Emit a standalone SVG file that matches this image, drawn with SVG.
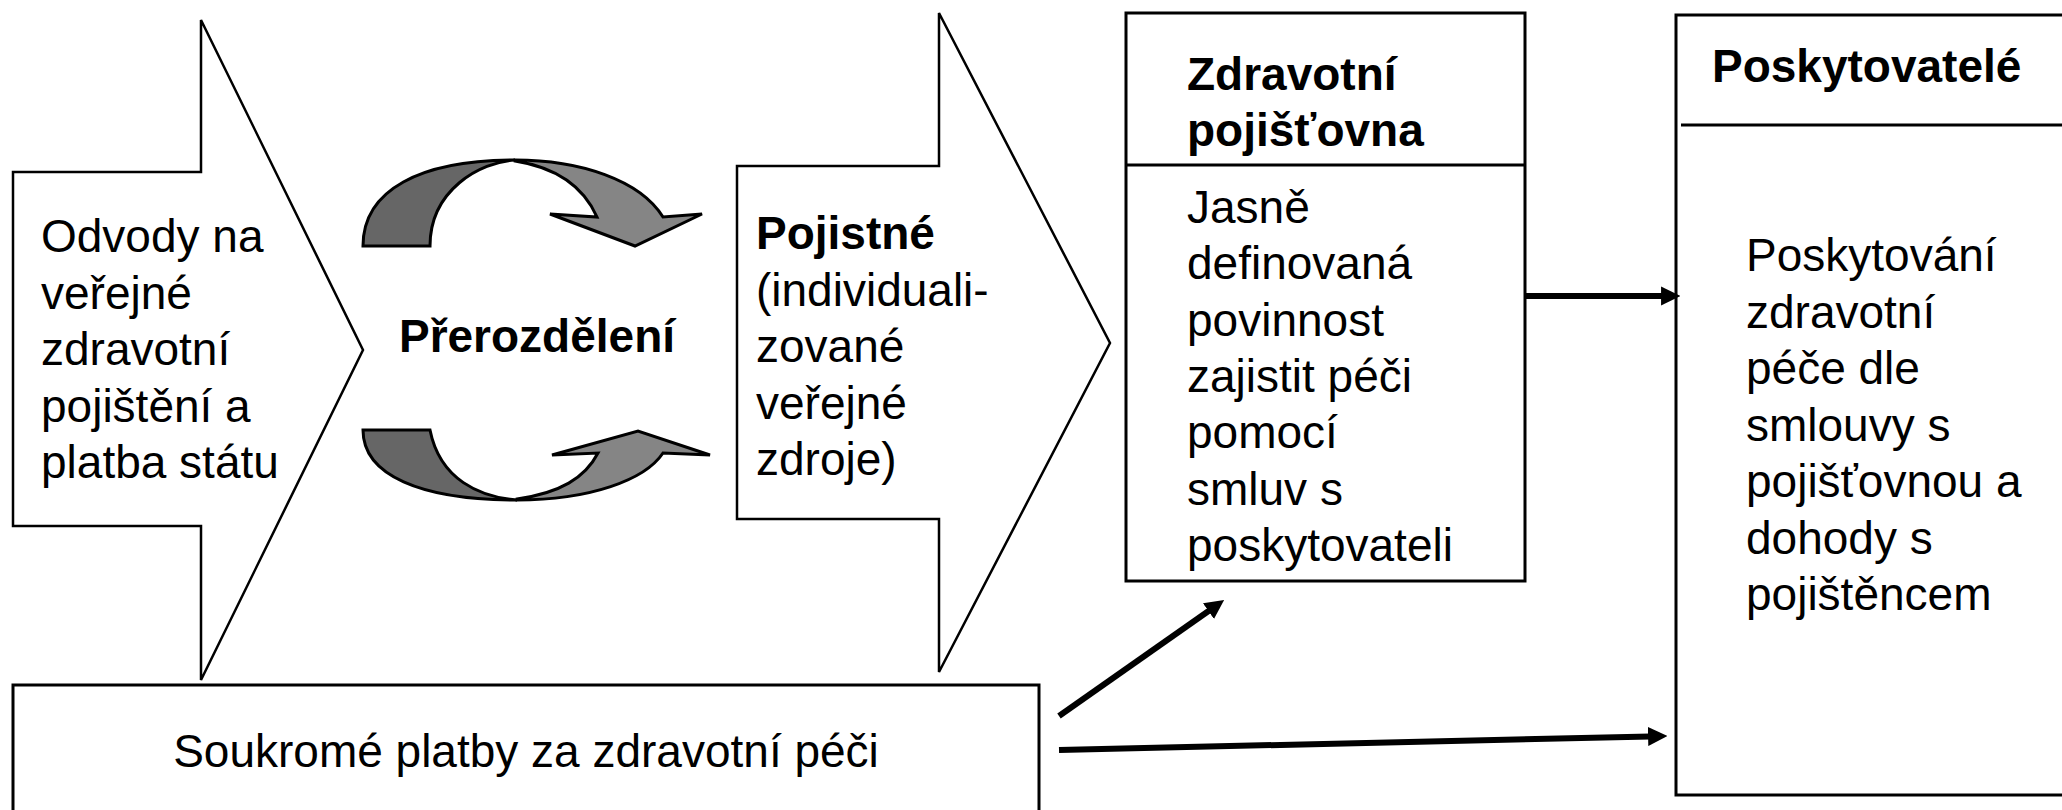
<svg xmlns="http://www.w3.org/2000/svg" width="2062" height="810" viewBox="0 0 2062 810">
<style>
.shape{fill:#fff;stroke:#000;stroke-width:2.5}
.box{fill:#fff;stroke:#000;stroke-width:3}
.t{font-family:"Liberation Sans",Arial,sans-serif;font-size:46px;fill:#000}
.b{font-weight:bold}
.dark{fill:#666;stroke:#000;stroke-width:3;stroke-linejoin:miter}
.light{fill:#858585;stroke:#000;stroke-width:3;stroke-linejoin:miter}
.conn{fill:none;stroke:#000;stroke-width:6}
</style>
<defs>
<marker id="head" viewBox="0 0 10 10" refX="1" refY="5" markerWidth="3.2" markerHeight="3.2" markerUnits="strokeWidth" orient="auto">
<path d="M0,0 L10,5 L0,10 z" fill="#000"/>
</marker>
</defs>
<rect width="2062" height="810" fill="#fff"/>

<g id="odvody">
<polygon class="shape" points="13,172 201,172 201,20 363,350 201,680 201,526 13,526"/>
<text class="t"><tspan x="41" y="252">Odvody na</tspan><tspan x="41" y="308.5">veřejné</tspan><tspan x="41" y="365">zdravotní</tspan><tspan x="41" y="421.5">pojištění a</tspan><tspan x="41" y="478">platba státu</tspan></text>
</g>

<g id="prerozdeleni">
<path class="dark" d="M363,246 C363,190 420,160 515,160 C480,162 430,190 430,246 Z"/>
<path class="light" d="M515,160 C580,160 640,180 663,217 L702,214 L635,246 L550,214 L597,217 C585,190 560,168 515,161 Z"/>
<path class="dark" d="M363,430 C363,475 420,500 517,500 C480,497 440,480 430,430 Z"/>
<path class="light" d="M517,500 C590,500 645,480 663,453 L710,455 L638,431 L552,455 L598,453 C585,478 560,493 517,499 Z"/>
<text class="t b" x="537" y="352" text-anchor="middle">Přerozdělení</text>
</g>

<g id="pojistne">
<polygon class="shape" points="737,166 939,166 939,13 1110,343 939,672 939,519 737,519"/>
<text class="t"><tspan class="b" x="756" y="249">Pojistné</tspan><tspan x="756" y="305.5">(individuali-</tspan><tspan x="756" y="362">zované</tspan><tspan x="756" y="418.5">veřejné</tspan><tspan x="756" y="475">zdroje)</tspan></text>
</g>

<g id="pojistovna">
<rect class="box" x="1126" y="13" width="399" height="568"/>
<line x1="1126" y1="165" x2="1525" y2="165" stroke="#000" stroke-width="3"/>
<text class="t b"><tspan x="1187" y="90">Zdravotní</tspan><tspan x="1187" y="146">pojišťovna</tspan></text>
<text class="t"><tspan x="1187" y="223">Jasně</tspan><tspan x="1187" y="279.3">definovaná</tspan><tspan x="1187" y="335.6">povinnost</tspan><tspan x="1187" y="391.9">zajistit péči</tspan><tspan x="1187" y="448.2">pomocí</tspan><tspan x="1187" y="504.5">smluv s</tspan><tspan x="1187" y="560.8">poskytovateli</tspan></text>
</g>

<g id="poskytovatele">
<rect class="box" x="1676" y="15" width="420" height="780"/>
<line x1="1681" y1="125" x2="2062" y2="125" stroke="#000" stroke-width="3"/>
<text class="t b" x="1712" y="82">Poskytovatelé</text>
<text class="t"><tspan x="1746" y="271">Poskytování</tspan><tspan x="1746" y="327.5">zdravotní</tspan><tspan x="1746" y="384">péče dle</tspan><tspan x="1746" y="440.5">smlouvy s</tspan><tspan x="1746" y="497">pojišťovnou a</tspan><tspan x="1746" y="553.5">dohody s</tspan><tspan x="1746" y="610">pojištěncem</tspan></text>
</g>

<g id="soukrome">
<rect class="box" x="13" y="685" width="1026" height="140"/>
<text class="t" x="526" y="767" text-anchor="middle">Soukromé platby za zdravotní péči</text>
</g>

<g id="connectors">
<line class="conn" x1="1525" y1="296" x2="1663" y2="296" marker-end="url(#head)"/>
<line class="conn" x1="1059" y1="716" x2="1210" y2="610" marker-end="url(#head)"/>
<line class="conn" x1="1059" y1="750" x2="1650" y2="736.4" marker-end="url(#head)"/>
</g>
</svg>
